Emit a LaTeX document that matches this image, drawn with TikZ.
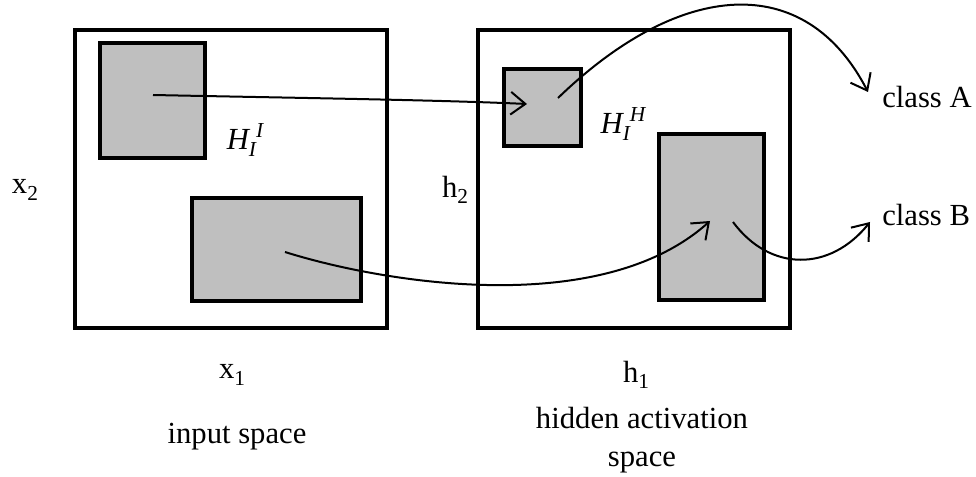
\documentclass[tikz,border=0pt]{standalone}
\usepackage{fontspec}
\setmainfont{Liberation Serif}
\usetikzlibrary{arrows.meta,positioning}
\newcommand{\lowidx}[1]{\raisebox{-0.45ex}{\fontsize{16}{18}\selectfont #1}}
\newcommand{\highidx}[1]{\raisebox{0.85ex}{\fontsize{16}{18}\selectfont #1}}
\tikzset{
  spacebox/.style={draw=black, line width=3pt},
  regionbox/.style={draw=black, fill=black!25, line width=3pt},
  flow/.style={line width=1.5pt, -{Straight Barb[length=11pt,width=17pt,line width=1.5pt]}},
  lbl/.style={font=\fontsize{23}{29}\selectfont, inner sep=0pt}
}

\begin{document}
\begin{tikzpicture}[x=0.75pt,y=-0.75pt]
  \useasboundingbox (0,0) rectangle (976,477);

  % input space
  \draw[spacebox] (75,30) rectangle (387,328);
  \draw[regionbox] (100,43) rectangle (205,158);
  \draw[regionbox] (192,198) rectangle (361,301);
  \node[lbl] (hii) at (245,140) {\textit{H\lowidx{I}\highidx{I}}};
  \node[lbl] (xtwo) at (25,190) {x\lowidx{2}};
  \node[lbl] (xone) at (232,375) {x\lowidx{1}};
  \node[lbl] (inname) at (237,437) {input space};

  % hidden activation space
  \draw[spacebox] (478,30) rectangle (790,328);
  \draw[regionbox] (504,69) rectangle (581,146);
  \draw[regionbox] (659,134) rectangle (764,300);
  \node[lbl] (hih) at (623,124) {\textit{H\lowidx{I}\highidx{H}}};
  \node[lbl] (htwo) at (455,190) {h\lowidx{2}};
  \node[lbl] (hone) at (636,375) {h\lowidx{1}};
  \node[lbl, align=center] (hidname) at (642,440) {hidden activation\\space};

  % classes
  \node[lbl, anchor=west] (classA) at (882,97) {class A};
  \node[lbl, anchor=west] (classB) at (882,215) {class B};

  % mapping
  \coordinate (srcA) at (153,95);
  \coordinate (dstA) at (527,104);
  \coordinate (srcB) at (285,252);
  \coordinate (dstB) at (710,221);
  \coordinate (outA) at (558,98);
  \coordinate (outB) at (733,222);
  \coordinate (endA) at (868,92);
  \coordinate (endB) at (870,222);

  \draw[flow] (srcA) .. controls (300,98) and (440,100) .. (dstA);
  \draw[flow] (srcB) .. controls (380,282) and (600,320) .. (dstB);
  \draw[flow] (outA) .. controls (680,-20) and (805,-30) .. (endA);
  \draw[flow] (outB) .. controls (770,272) and (830,272) .. (endB);
\end{tikzpicture}
\end{document}
